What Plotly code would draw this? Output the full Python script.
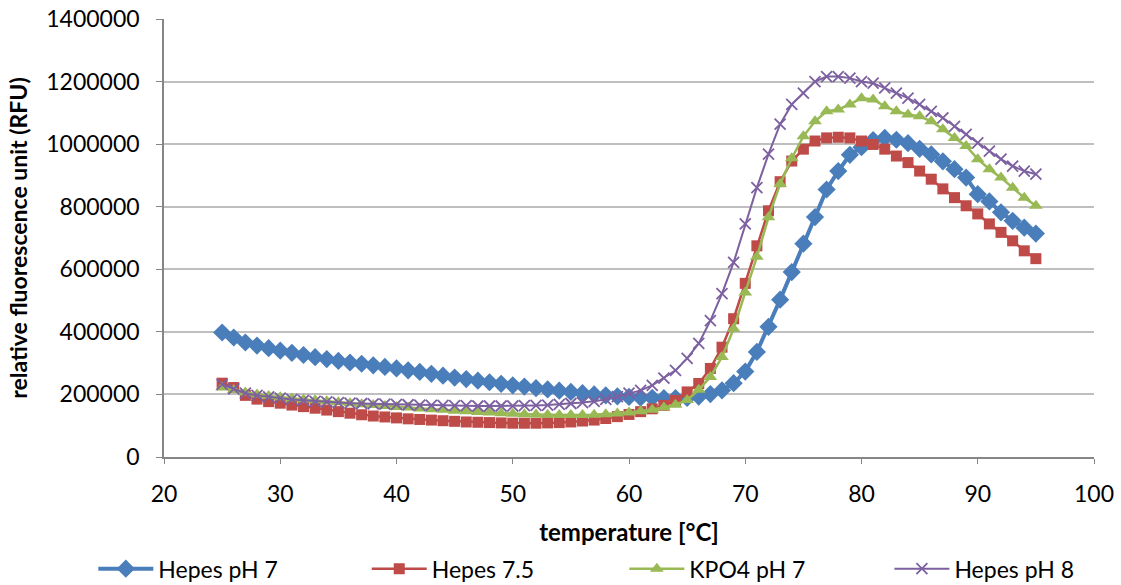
import plotly.graph_objects as go

temperature = [25, 26, 27, 28, 29, 30, 31, 32, 33, 34, 35, 36, 37, 38, 39, 40, 41, 42, 43, 44,
               45, 46, 47, 48, 49, 50, 51, 52, 53, 54, 55, 56, 57, 58, 59, 60, 61, 62, 63, 64,
               65, 66, 67, 68, 69, 70, 71, 72, 73, 74, 75, 76, 77, 78, 79, 80, 81, 82, 83, 84,
               85, 86, 87, 88, 89, 90, 91, 92, 93, 94, 95]

hepes_ph7 = [398000, 382000, 366000, 356000, 348000, 340000, 333000, 326000, 319000, 313000,
             307000, 302000, 298000, 293000, 288000, 283000, 277000, 272000, 266000, 260000,
             254000, 249000, 244000, 239000, 234000, 229000, 225000, 220000, 216000, 212000,
             208000, 204000, 200000, 197000, 194000, 192000, 190000, 189000, 188000, 188000,
             189000, 193000, 201000, 213000, 236000, 273000, 336000, 416000, 503000, 591000,
             682000, 767000, 855000, 914000, 966000, 990000, 1013000, 1020000, 1014000, 1003000,
             985000, 967000, 945000, 920000, 893000, 840000, 817000, 782000, 755000, 733000,
             714000]

hepes_75 = [236000, 222000, 197000, 185000, 177000, 172000, 166000, 161000, 156000, 150000,
            145000, 140000, 135000, 131000, 128000, 125000, 122000, 120000, 118000, 116000,
            114000, 112000, 111000, 110000, 109000, 108000, 108000, 108000, 109000, 110000,
            112000, 115000, 118000, 123000, 129000, 136000, 145000, 154000, 165000, 181000,
            208000, 235000, 283000, 351000, 442000, 555000, 675000, 787000, 880000, 946000,
            984000, 1010000, 1020000, 1022000, 1020000, 1010000, 999000, 984000, 962000, 941000,
            914000, 888000, 857000, 829000, 803000, 777000, 745000, 718000, 691000, 659000,
            634000]

kpo4_ph7 = [222000, 214000, 206000, 200000, 195000, 191000, 187000, 184000, 181000, 178000,
            175000, 172000, 169000, 166000, 163000, 160000, 158000, 155000, 153000, 151000,
            148000, 146000, 144000, 142000, 140000, 138000, 137000, 136000, 135000, 134000,
            134000, 134000, 135000, 137000, 139000, 142000, 146000, 151000, 158000, 167000,
            182000, 215000, 256000, 320000, 410000, 526000, 640000, 766000, 873000, 955000,
            1025000, 1073000, 1105000, 1111000, 1127000, 1147000, 1143000, 1121000, 1105000, 1095000,
            1089000, 1073000, 1048000, 1020000, 994000, 952000, 920000, 893000, 861000, 829000,
            803000]

hepes_ph8 = [232000, 218000, 204000, 197000, 192000, 188000, 184000, 181000, 178000, 176000,
             174000, 172000, 171000, 170000, 169000, 168000, 167000, 166000, 165000, 165000,
             164000, 164000, 163000, 163000, 163000, 163000, 164000, 165000, 166000, 168000,
             171000, 174000, 178000, 184000, 193000, 204000, 213000, 229000, 252000, 277000,
             315000, 363000, 436000, 522000, 622000, 745000, 861000, 968000, 1064000, 1127000,
             1163000, 1200000, 1216000, 1216000, 1211000, 1200000, 1195000, 1180000, 1163000, 1147000,
             1127000, 1105000, 1084000, 1057000, 1031000, 1004000, 978000, 952000, 930000, 914000,
             904000]

series_names = ["Hepes pH 7", "Hepes 7.5", "KPO4 pH 7", "Hepes pH 8"]

x_ticks = [20, 30, 40, 50, 60, 70, 80, 90, 100]
y_ticks = [0, 200000, 400000, 600000, 800000, 1000000, 1200000, 1400000]

FONT = "Lato"

fig = go.Figure()

fig.add_trace(go.Scatter(
    x=temperature, y=hepes_ph7, name=series_names[0], mode="lines+markers", legend="legend",
    line=dict(color="#4A7EBB", width=4),
    marker=dict(symbol="diamond", size=14, color="#4A7EBB", line=dict(width=0)),
))
fig.add_trace(go.Scatter(
    x=temperature, y=hepes_75, name=series_names[1], mode="lines+markers", legend="legend2",
    line=dict(color="#BE4B48", width=2.5),
    marker=dict(symbol="square", size=11, color="#BE4B48", line=dict(width=0)),
))
fig.add_trace(go.Scatter(
    x=temperature, y=kpo4_ph7, name=series_names[2], mode="lines+markers", legend="legend3",
    line=dict(color="#98B954", width=2.5),
    marker=dict(symbol="triangle-up", size=12, color="#98B954", line=dict(width=0)),
))
fig.add_trace(go.Scatter(
    x=temperature, y=hepes_ph8, name=series_names[3], mode="lines+markers", legend="legend4",
    line=dict(color="#7D60A0", width=2),
    marker=dict(symbol="x-thin-open", size=11, color="#7D60A0",
                line=dict(width=1.8, color="#7D60A0")),
))

def leg(xpos):
    return dict(
        orientation="h", x=xpos, xanchor="left", y=-0.255, yanchor="middle",
        font=dict(family=FONT, size=23, color="black"),
        itemwidth=55, bgcolor="rgba(0,0,0,0)",
    )

fig.update_layout(
    width=1121, height=585,
    margin=dict(l=164, r=27, t=19, b=128, autoexpand=False),
    paper_bgcolor="white", plot_bgcolor="white",
    font=dict(family=FONT, size=23, color="black"),
    showlegend=True,
    legend=leg(-0.076),
    legend2=leg(0.218),
    legend3=leg(0.495),
    legend4=leg(0.780),
)

fig.update_xaxes(
    range=[20, 100], tickvals=x_ticks, ticktext=[str(v) for v in x_ticks],
    showgrid=False, zeroline=False, automargin=False,
    showline=True, linecolor="#868686", linewidth=1.5,
    ticks="outside", ticklen=5, tickcolor="#868686",
    tickfont=dict(family=FONT, size=23, color="black"),
    ticklabelstandoff=11, ticklabeloverflow="allow",
    title=dict(text="<b>temperature [°C]</b>", font=dict(family=FONT, size=24, color="black"),
               standoff=18),
)
fig.update_yaxes(
    range=[0, 1400000], tickvals=y_ticks, ticktext=[str(v) for v in y_ticks],
    showgrid=True, gridcolor="#BFBFBF", gridwidth=1.5, zeroline=False, automargin=False,
    showline=True, linecolor="#868686", linewidth=1.5,
    ticks="outside", ticklen=6, tickcolor="#868686",
    tickfont=dict(family=FONT, size=23, color="black"),
    ticklabelstandoff=12, ticklabeloverflow="allow",
    title=dict(text="<b>relative fluorescence unit (RFU)</b>",
               font=dict(family=FONT, size=23, color="black"), standoff=12),
)

fig.write_html("out.html", config={"displayModeBar": False},
               post_script="document.body.style.margin='0';")
